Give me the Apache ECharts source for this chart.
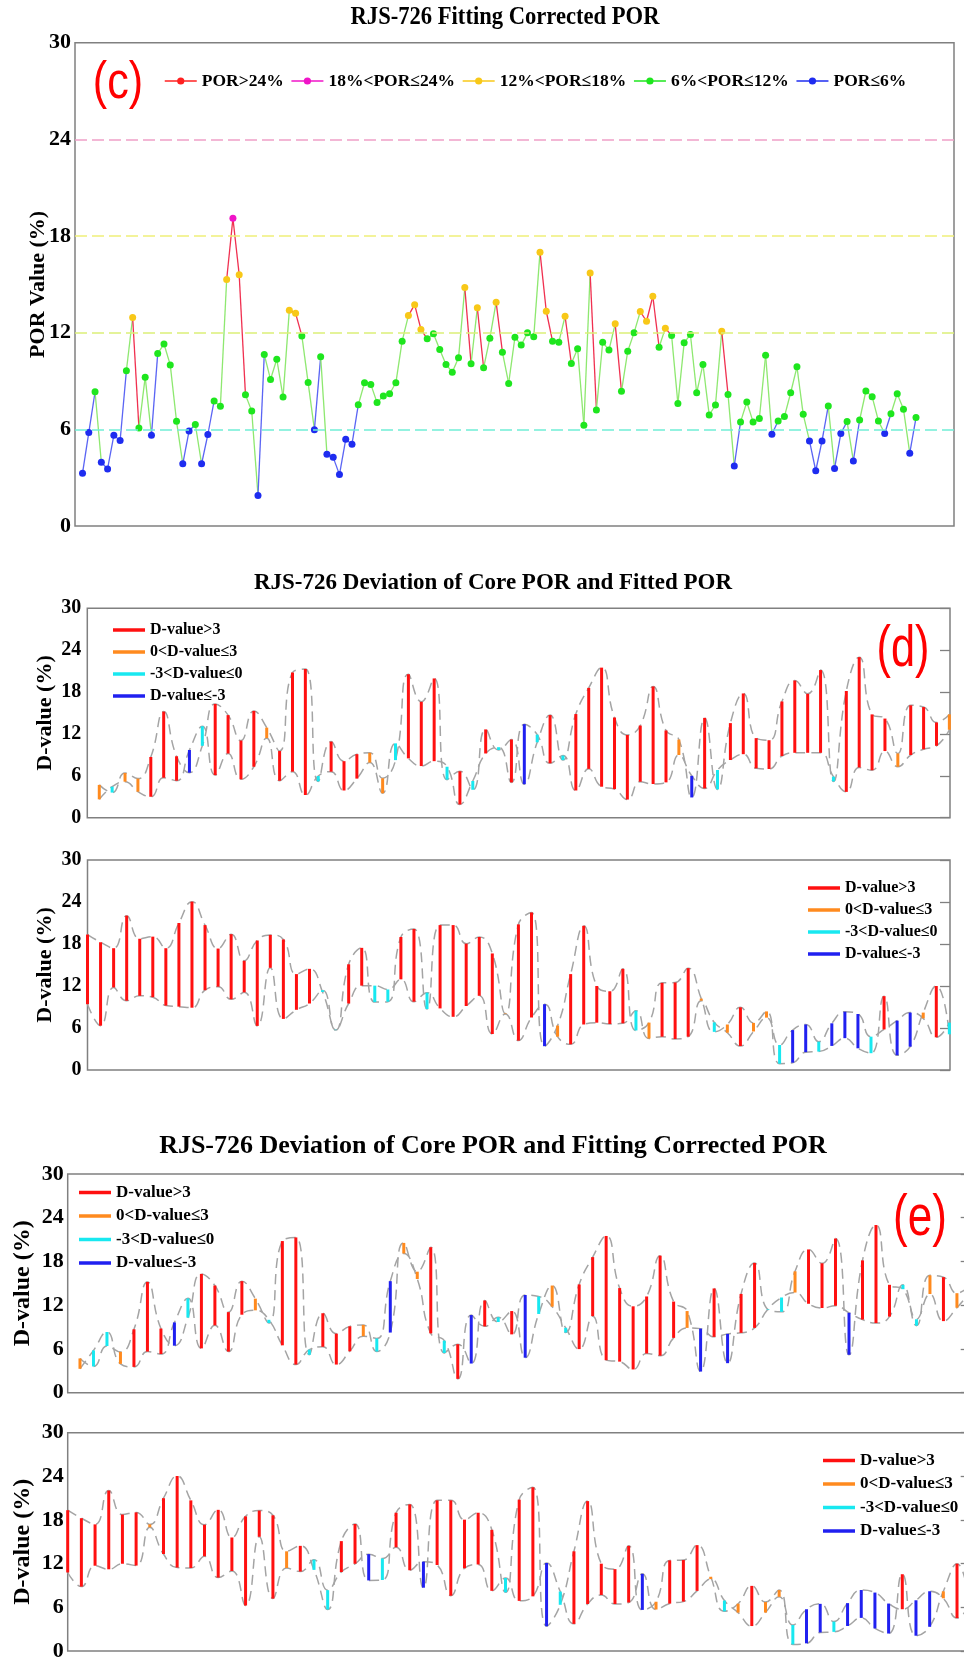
<!DOCTYPE html>
<html>
<head>
<meta charset="utf-8">
<title>RJS-726 POR</title>
<script src="https://cdn.jsdelivr.net/npm/echarts@6/dist/echarts.min.js"></script>
<style>
html, body { margin: 0; padding: 0; background: #ffffff; }
#main { width: 964px; height: 1662px; }
</style>
</head>
<body>
<div id="main"></div>
<script>
// fitting corrected POR, one value per sample (panel c)
var correctedPor = [
  3.28, 5.8, 8.33, 3.96, 3.54, 5.64, 5.3, 9.64, 12.94, 6.08,
  9.24, 5.64, 10.7, 11.3, 10.0, 6.5, 3.86, 5.9, 6.3, 3.86,
  5.68, 7.76, 7.44, 15.3, 19.1, 15.6, 8.14, 7.14, 1.9, 10.65,
  9.1, 10.35, 8.0, 13.4, 13.2, 11.8, 8.9, 5.98, 10.5, 4.46,
  4.26, 3.19, 5.38, 5.08, 7.52, 8.89, 8.79, 7.66, 8.07, 8.21,
  8.89, 11.47, 13.06, 13.74, 12.2, 11.62, 11.93, 10.96, 10.03, 9.55,
  10.44, 14.8, 10.07, 13.54, 9.82, 11.66, 13.89, 10.79, 8.85, 11.72,
  11.23, 11.99, 11.74, 17.0, 13.33, 11.47, 11.41, 13.02, 10.09, 11.0,
  6.25, 15.7, 7.2, 11.41, 10.92, 12.55, 8.36, 10.85, 11.99, 13.31,
  12.71, 14.26, 11.1, 12.28, 11.82, 7.6, 11.37, 11.89, 8.27, 10.03,
  6.89, 7.51, 12.09, 8.17, 3.73, 6.46, 7.7, 6.46, 6.67, 10.6,
  5.7, 6.52, 6.79, 8.27, 9.88, 6.93, 5.28, 3.43, 5.28, 7.45,
  3.57, 5.74, 6.48, 4.04, 6.58, 8.38, 8.03, 6.52, 5.74, 6.97,
  8.21, 7.24, 4.52, 6.73
];
// core POR
var corePor = [
  4.7, 3.6, 6.4, 5.6, 8.7, 15.2, 8.8, 6.45, 10.3, 16.3,
  14.7, 11.05, 15.3, 12.9, 9.55, 20.8, 21.3, 5.2, 10.9, 8.1,
  9.1, 9.3, 5.65, 8.25, 20.55, 16.6, 19.95, 5.45, 6.65, 4.0,
  12.65, 9.7, 11.2, 4.8, 10.8, 14.7, 8.25, 14.85, 18.6, 21.5,
  14.35, 11.85, 13.2, 18.8, 12.5, 11.2, 2.9, 14.3, 4.05, 13.55,
  17.8, 11.4, 11.1, 16.65, 19.65, 17.75, 21.15, 5.2, 18.15, 23.0,
  14.8, 14.2, 9.2, 16.1, 15.85, 13.65, 14.8,
  19.35, 18.25, 17.4, 22.05, 18.75, 19.05, 17.4, 21.0, 24.05, 20.7,
  17.35, 19.4, 15.6, 18.5, 19.3, 18.65, 13.7, 14.45, 11.15, 5.7,
  15.1, 17.45, 9.7, 9.76, 19.0, 20.15, 8.7, 20.7, 20.7, 18.05,
  19.0, 16.65, 8.06, 20.8, 22.5, 3.4, 6.35, 13.7, 20.6, 12.0,
  11.25, 14.45, 5.65, 6.77, 12.45, 12.5, 14.55, 10.2, 5.45, 6.5,
  8.95, 6.73, 8.37, 0.9, 1.05, 2.55, 2.63, 3.44, 4.55, 3.1,
  2.4, 10.55, 2.1, 3.33, 8.2, 12.0, 5.1
];
// fitted POR (before correction)
var fittedPor = [
  2.63, 4.44, 5.16, 3.73, 3.0, 5.73, 5.3, 9.7, 13.1, 6.1,
  9.2, 5.5, 7.3, 11.4, 5.3, 6.6, 3.25, 5.97, 6.6, 3.9,
  5.6, 7.9, 3.5, 10.65, 8.5, 7.4, 8.1, 7.3, 1.9, 5.26,
  9.2, 10.1, 5.06, 13.4, 11.9, 7.8, 8.9, 3.9, 7.0, 4.44,
  4.1, 2.6, 5.16, 4.83, 5.06, 8.98, 6.0, 4.2, 6.83, 8.27,
  9.1, 7.07, 6.98, 8.84, 9.3, 9.3, 9.3, 5.88, 3.7, 7.2,
  6.8, 9.55, 7.3, 8.98, 9.8, 10.3, 12.6,
  9.4, 6.33, 11.8, 9.9, 10.6, 10.4, 9.2, 9.05, 8.9, 11.4,
  11.9, 10.1, 11.1, 6.3, 14.6, 7.3, 8.6, 9.5, 11.4, 5.75,
  9.5, 12.05, 12.05, 11.5, 12.95, 9.76, 11.05, 8.8, 7.6, 9.14,
  10.6, 5.14, 8.0, 4.2, 7.5, 9.4, 4.76, 3.67, 6.5, 6.76,
  6.57, 6.67, 8.48, 4.5, 4.76, 4.43, 4.76, 9.9, 6.8, 5.33,
  3.43, 5.5, 7.48, 3.57, 5.7, 6.5, 4.05, 6.67, 8.33, 8.0,
  4.76, 5.8, 7.05, 8.2, 7.38, 4.67, 6.76
];

var porClasses = ['POR>24%', '18%<POR≤24%', '12%<POR≤18%', '6%<POR≤12%', 'POR≤6%'];
var porLevels = [6, 12, 18, 24];
var dClasses = ['D-value>3', '0<D-value≤3', '-3<D-value≤0', 'D-value≤-3'];
var samplesPerRow = 67;

var serif = 'Liberation Serif';
var porColors = ['#ff2020', '#f014c8', '#f8c818', '#1ee61e', '#1e2cf0'];
var segColors = ['#f03050', '#f03050', '#f03050', '#8ee870', '#5a64f4'];
var levelColors = ['#70eed6', '#dcf078', '#f0f07a', '#f0a0c8'];
var dColors = ['#ff1010', '#ff8a1e', '#18e8f0', '#2020f0'];

function porClassOf(v) {
    if (v > 24) return 0;
    if (v > 18) return 1;
    if (v > 12) return 2;
    if (v > 6) return 3;
    return 4;
}
function dClassOf(d) {
    if (d > 3) return 0;
    if (d > 0) return 1;
    if (d > -3) return 2;
    return 3;
}

// line piece from sample i to sample i+1, coloured by the start point
function renderSegment(params, api) {
    var p0 = api.coord([api.value(0), api.value(1)]);
    var p1 = api.coord([api.value(0) + 1, api.value(2)]);
    return {
        type: 'line',
        shape: { x1: p0[0], y1: p0[1], x2: p1[0], y2: p1[1] },
        style: { stroke: segColors[porClassOf(api.value(1))], lineWidth: 1.3 }
    };
}
// vertical bar between core POR and fitted POR
function renderDBar(params, api) {
    var a = api.coord([api.value(0), api.value(1)]);
    var b = api.coord([api.value(0), api.value(2)]);
    return {
        type: 'line',
        shape: { x1: a[0], y1: a[1], x2: b[0], y2: b[1] },
        style: { stroke: api.visual('color'), lineWidth: 3 }
    };
}

var myChart = echarts.init(document.getElementById('main'), null, { width: 964, height: 1662 });

var gridBase = { show: true, borderColor: '#808080', borderWidth: 1.5, backgroundColor: 'transparent', containLabel: false, outerBoundsMode: 'none' };
var grids = [
    { left: 75, right: 10, top: 42.7, height: 483.3 },
    { left: 87.3, right: 14, top: 608.3, height: 209.4 },
    { left: 87.5, right: 14, top: 860, height: 210 },
    { left: 67.7, width: 903, top: 1174, height: 218.7 },
    { left: 67.7, width: 903, top: 1432.7, height: 218.3 }
];
var xRanges = [[-1.2, 139.06], [-0.93, 66.05], [0, 66.05], [-0.91, 66.02], [0, 66]];

function leftY(gridIndex, name, fontSize, nameSize, nameGap, margin) {
    return {
        type: 'value', gridIndex: gridIndex, position: 'left', min: 0, max: 30, interval: 6,
        name: name, nameLocation: 'middle', nameGap: nameGap, nameMoveOverlap: false,
        nameTextStyle: { fontFamily: serif, fontWeight: 'bold', fontSize: nameSize, color: '#000' },
        axisLine: { show: false }, axisTick: { show: false }, splitLine: { show: false },
        axisLabel: { fontFamily: serif, fontWeight: 'bold', fontSize: fontSize, color: '#000', margin: margin, showMinLabel: true, showMaxLabel: true }
    };
}
function rightY(gridIndex) {
    return {
        type: 'value', gridIndex: gridIndex, position: 'right', min: 0, max: 30, interval: 6,
        axisLine: { show: false }, axisLabel: { show: false }, splitLine: { show: false },
        axisTick: { show: true, inside: true, length: 10, lineStyle: { color: '#808080', width: 1.3 } }
    };
}

var yAxes = [
    leftY(0, 'POR Value (%)', 22, 22, 26, 4),
    leftY(1, 'D-value (%)', 20, 22, 31, 6),
    leftY(2, 'D-value (%)', 20, 22, 31, 6),
    leftY(3, 'D-value (%)', 22, 24, 33, 4),
    leftY(4, 'D-value (%)', 22, 24, 33, 4),
    rightY(1), rightY(2), rightY(3), rightY(4)
];

var series = [];

// panel (c): dashed class borders
series.push({
    type: 'line', name: 'levels', xAxisIndex: 0, yAxisIndex: 0, data: [], z: 1, silent: true,
    markLine: {
        silent: true, symbol: ['none', 'none'], label: { show: false },
        data: porLevels.map(function (v, j) {
            return { yAxis: v, lineStyle: { color: levelColors[j], type: [12, 5], width: 1.5 } };
        })
    }
});
// panel (c): coloured pieces of line
series.push({
    type: 'custom', name: 'segments', xAxisIndex: 0, yAxisIndex: 0, z: 2, silent: true,
    renderItem: renderSegment, encode: { x: 0, y: [1, 2] },
    data: correctedPor.slice(0, -1).map(function (v, i) { return [i, v, correctedPor[i + 1]]; })
});
// panel (c): points by class
porClasses.forEach(function (name, k) {
    var pts = [];
    correctedPor.forEach(function (v, i) { if (porClassOf(v) === k) pts.push([i, v]); });
    series.push({
        type: 'line', name: name, xAxisIndex: 0, yAxisIndex: 0, z: 3,
        color: porColors[k], symbol: 'circle', symbolSize: 7, showSymbol: true,
        lineStyle: { width: 0 }, itemStyle: { color: porColors[k] },
        data: pts
    });
});

// panels (d) and (e)
var subplots = [
    { grid: 1, start: 0, other: fittedPor },
    { grid: 2, start: samplesPerRow, other: fittedPor },
    { grid: 3, start: 0, other: correctedPor },
    { grid: 4, start: samplesPerRow, other: correctedPor }
];
subplots.forEach(function (sp) {
    var idx = [];
    for (var i = sp.start; i < sp.start + samplesPerRow; i++) idx.push(i);
    var curve = function (arr) { return idx.map(function (i) { return [i - sp.start, arr[i]]; }); };
    [corePor, sp.other].forEach(function (arr) {
        series.push({
            type: 'line', name: 'curve', xAxisIndex: sp.grid, yAxisIndex: sp.grid, z: 2, silent: true,
            smooth: 0.5, symbol: 'none', data: curve(arr),
            lineStyle: { color: '#a4a4a4', width: 1.5, type: [10, 6] }
        });
    });
    dClasses.forEach(function (name, k) {
        series.push({
            type: 'custom', name: name, xAxisIndex: sp.grid, yAxisIndex: sp.grid, z: 3,
            color: dColors[k], itemStyle: { color: dColors[k] },
            renderItem: renderDBar, encode: { x: 0, y: [1, 2] },
            data: idx.filter(function (i) { return dClassOf(corePor[i] - sp.other[i]) === k; })
                     .map(function (i) { return [i - sp.start, corePor[i], sp.other[i]]; })
        });
    });
});

function dLegend(left, top, fontSize, gap) {
    return {
        data: dClasses, orient: 'vertical', left: left, top: top, icon: 'rect',
        itemWidth: 32, itemHeight: 3.5, itemGap: gap, selectedMode: false,
        textStyle: { fontFamily: serif, fontWeight: 'bold', fontSize: fontSize, color: '#000' }
    };
}

function label(text, x, y, font, fill, sx, sy) {
    return {
        type: 'text', x: x, y: y, scaleX: sx || 1, scaleY: sy || 1, silent: true,
        style: { text: text, font: font, fill: fill, textAlign: 'center', textVerticalAlign: 'middle', align: 'center', verticalAlign: 'middle' }
    };
}

var option = {
    backgroundColor: '#ffffff',
    animation: false,
    textStyle: { fontFamily: serif },
    graphic: [
        label('RJS-726 Fitting Corrected POR', 505, 18, 'bold 22.6px "Liberation Serif"', '#000', 1, 1.08),
        label('RJS-726 Deviation of Core POR and Fitted POR', 493, 583, 'bold 23px "Liberation Serif"', '#000'),
        label('RJS-726 Deviation of Core POR and Fitting Corrected POR', 493, 1146, 'bold 26px "Liberation Serif"', '#000'),
        label('(c)', 118, 84, '52px "Liberation Sans"', '#ff0000', 0.83),
        label('(d)', 903, 650, '57px "Liberation Sans"', '#ff0000', 0.76),
        label('(e)', 920, 1219, '58px "Liberation Sans"', '#ff0000', 0.76)
    ],
    grid: grids.map(function (g) { return Object.assign({}, gridBase, g); }),
    xAxis: xRanges.map(function (r, i) {
        return { type: 'value', gridIndex: i, min: r[0], max: r[1], show: false };
    }),
    yAxis: yAxes,
    legend: [
        {
            data: porClasses, left: 159, top: 67, orient: 'horizontal',
            itemWidth: 32, itemHeight: 9, itemGap: 7, selectedMode: false,
            lineStyle: { width: 1.5 },
            textStyle: { fontFamily: serif, fontWeight: 'bold', fontSize: 17.5, color: '#000' }
        },
        dLegend(108, 617, 16, 6),
        dLegend(803, 875, 16, 6),
        dLegend(74, 1179, 17, 6.5),
        dLegend(818, 1447, 17, 6.5)
    ],
    series: series
};

myChart.setOption(option);
</script>
</body>
</html>
